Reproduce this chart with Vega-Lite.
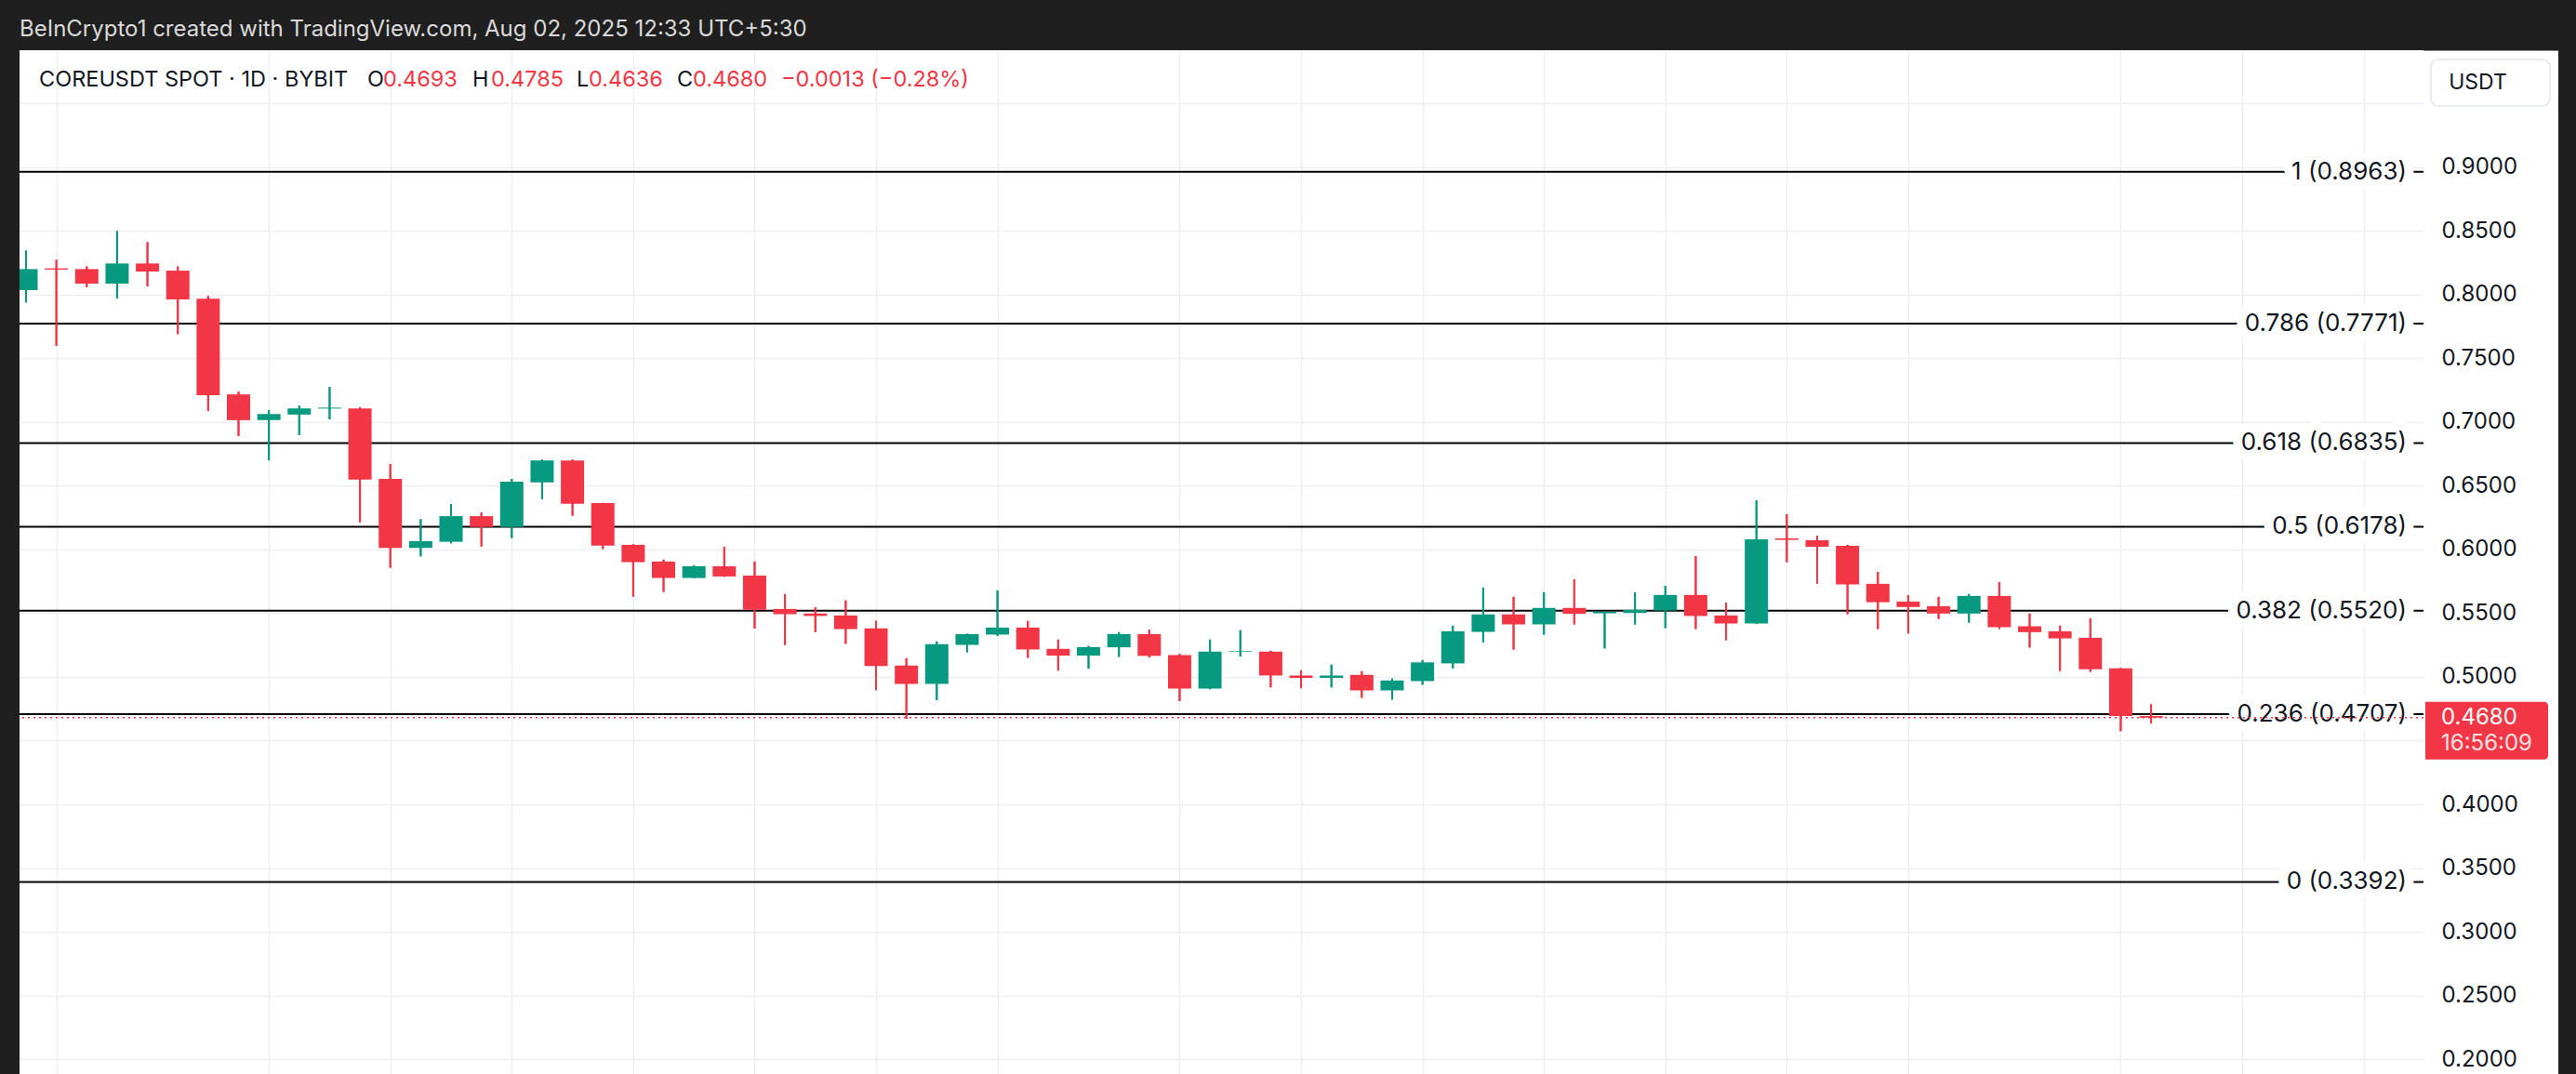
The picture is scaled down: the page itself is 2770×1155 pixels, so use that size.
{
  "$schema": "https://vega.github.io/schema/vega-lite/v6.json",
  "width": 2585,
  "height": 1101,
  "autosize": {"type": "none"},
  "padding": {"left": 21, "top": 54, "right": 164, "bottom": 0},
  "background": "#1f1f1f",
  "view": {"fill": "#ffffff", "stroke": null},
  "title": {
    "text": "BeInCrypto1 created with TradingView.com, Aug 02, 2025 12:33 UTC+5:30",
    "anchor": "start",
    "frame": "group",
    "color": "#dadada",
    "font": "Inter",
    "fontSize": 24,
    "fontWeight": "normal",
    "offset": 10
  },
  "config": {
    "font": "Inter",
    "text": {"font": "Inter"}
  },
  "resolve": {"axis": {"y": "independent"}},
  "datasets": {
    "candles": [
      {"date": "2025-05-24", "open": 0.8034, "high": 0.8344, "low": 0.7937, "close": 0.8199},
      {"date": "2025-05-25", "open": 0.8205, "high": 0.8272, "low": 0.7597, "close": 0.8195},
      {"date": "2025-05-26", "open": 0.8199, "high": 0.8220, "low": 0.8056, "close": 0.8085},
      {"date": "2025-05-27", "open": 0.8085, "high": 0.8497, "low": 0.7968, "close": 0.8243},
      {"date": "2025-05-28", "open": 0.8243, "high": 0.8410, "low": 0.8063, "close": 0.8180},
      {"date": "2025-05-29", "open": 0.8187, "high": 0.8220, "low": 0.7689, "close": 0.7961},
      {"date": "2025-05-30", "open": 0.7966, "high": 0.7988, "low": 0.7087, "close": 0.7210},
      {"date": "2025-05-31", "open": 0.7216, "high": 0.7237, "low": 0.6890, "close": 0.7014},
      {"date": "2025-06-01", "open": 0.7014, "high": 0.7094, "low": 0.6700, "close": 0.7063},
      {"date": "2025-06-02", "open": 0.7058, "high": 0.7128, "low": 0.6897, "close": 0.7106},
      {"date": "2025-06-03", "open": 0.7105, "high": 0.7274, "low": 0.7021, "close": 0.7112},
      {"date": "2025-06-04", "open": 0.7106, "high": 0.7116, "low": 0.6213, "close": 0.6548},
      {"date": "2025-06-05", "open": 0.6553, "high": 0.6669, "low": 0.5856, "close": 0.6012},
      {"date": "2025-06-06", "open": 0.6012, "high": 0.6237, "low": 0.5946, "close": 0.6065},
      {"date": "2025-06-07", "open": 0.6060, "high": 0.6356, "low": 0.6048, "close": 0.6261},
      {"date": "2025-06-08", "open": 0.6261, "high": 0.6290, "low": 0.6023, "close": 0.6176},
      {"date": "2025-06-09", "open": 0.6176, "high": 0.6553, "low": 0.6089, "close": 0.6531},
      {"date": "2025-06-10", "open": 0.6526, "high": 0.6706, "low": 0.6395, "close": 0.6698},
      {"date": "2025-06-11", "open": 0.6698, "high": 0.6705, "low": 0.6264, "close": 0.6358},
      {"date": "2025-06-12", "open": 0.6363, "high": 0.6365, "low": 0.6003, "close": 0.6030},
      {"date": "2025-06-13", "open": 0.6036, "high": 0.6040, "low": 0.5630, "close": 0.5900},
      {"date": "2025-06-14", "open": 0.5905, "high": 0.5920, "low": 0.5667, "close": 0.5776},
      {"date": "2025-06-15", "open": 0.5776, "high": 0.5876, "low": 0.5774, "close": 0.5868},
      {"date": "2025-06-16", "open": 0.5868, "high": 0.6020, "low": 0.5785, "close": 0.5788},
      {"date": "2025-06-17", "open": 0.5795, "high": 0.5905, "low": 0.5380, "close": 0.5526},
      {"date": "2025-06-18", "open": 0.5533, "high": 0.5650, "low": 0.5250, "close": 0.5492},
      {"date": "2025-06-19", "open": 0.5497, "high": 0.5546, "low": 0.5351, "close": 0.5478},
      {"date": "2025-06-20", "open": 0.5482, "high": 0.5600, "low": 0.5260, "close": 0.5375},
      {"date": "2025-06-21", "open": 0.5380, "high": 0.5440, "low": 0.4896, "close": 0.5085},
      {"date": "2025-06-22", "open": 0.5089, "high": 0.5147, "low": 0.4672, "close": 0.4945},
      {"date": "2025-06-23", "open": 0.4945, "high": 0.5278, "low": 0.4817, "close": 0.5256},
      {"date": "2025-06-24", "open": 0.5251, "high": 0.5338, "low": 0.5193, "close": 0.5336},
      {"date": "2025-06-25", "open": 0.5332, "high": 0.5679, "low": 0.5322, "close": 0.5387},
      {"date": "2025-06-26", "open": 0.5387, "high": 0.5439, "low": 0.5150, "close": 0.5215},
      {"date": "2025-06-27", "open": 0.5220, "high": 0.5293, "low": 0.5049, "close": 0.5167},
      {"date": "2025-06-28", "open": 0.5167, "high": 0.5242, "low": 0.5065, "close": 0.5234},
      {"date": "2025-06-29", "open": 0.5232, "high": 0.5351, "low": 0.5157, "close": 0.5336},
      {"date": "2025-06-30", "open": 0.5336, "high": 0.5370, "low": 0.5152, "close": 0.5165},
      {"date": "2025-07-01", "open": 0.5171, "high": 0.5181, "low": 0.4810, "close": 0.4909},
      {"date": "2025-07-02", "open": 0.4909, "high": 0.5293, "low": 0.4903, "close": 0.5198},
      {"date": "2025-07-03", "open": 0.5198, "high": 0.5366, "low": 0.5160, "close": 0.5203},
      {"date": "2025-07-04", "open": 0.5198, "high": 0.5205, "low": 0.4918, "close": 0.5011},
      {"date": "2025-07-05", "open": 0.5011, "high": 0.5052, "low": 0.4911, "close": 0.4992},
      {"date": "2025-07-06", "open": 0.4992, "high": 0.5096, "low": 0.4918, "close": 0.5011},
      {"date": "2025-07-07", "open": 0.5016, "high": 0.5045, "low": 0.4836, "close": 0.4894},
      {"date": "2025-07-08", "open": 0.4894, "high": 0.4987, "low": 0.4822, "close": 0.4972},
      {"date": "2025-07-09", "open": 0.4967, "high": 0.5132, "low": 0.4939, "close": 0.5114},
      {"date": "2025-07-10", "open": 0.5106, "high": 0.5402, "low": 0.5067, "close": 0.5358},
      {"date": "2025-07-11", "open": 0.5353, "high": 0.5701, "low": 0.5271, "close": 0.5490},
      {"date": "2025-07-12", "open": 0.5490, "high": 0.5628, "low": 0.5215, "close": 0.5412},
      {"date": "2025-07-13", "open": 0.5412, "high": 0.5664, "low": 0.5332, "close": 0.5541},
      {"date": "2025-07-14", "open": 0.5541, "high": 0.5766, "low": 0.5412, "close": 0.5495},
      {"date": "2025-07-15", "open": 0.5499, "high": 0.5513, "low": 0.5223, "close": 0.5511},
      {"date": "2025-07-16", "open": 0.5502, "high": 0.5664, "low": 0.5412, "close": 0.5526},
      {"date": "2025-07-17", "open": 0.5521, "high": 0.5715, "low": 0.5383, "close": 0.5643},
      {"date": "2025-07-18", "open": 0.5643, "high": 0.5948, "low": 0.5376, "close": 0.5478},
      {"date": "2025-07-19", "open": 0.5482, "high": 0.5584, "low": 0.5288, "close": 0.5419},
      {"date": "2025-07-20", "open": 0.5419, "high": 0.6385, "low": 0.5415, "close": 0.6079},
      {"date": "2025-07-21", "open": 0.6087, "high": 0.6276, "low": 0.5900, "close": 0.6075},
      {"date": "2025-07-22", "open": 0.6072, "high": 0.6108, "low": 0.5732, "close": 0.6021},
      {"date": "2025-07-23", "open": 0.6028, "high": 0.6036, "low": 0.5492, "close": 0.5725},
      {"date": "2025-07-24", "open": 0.5730, "high": 0.5824, "low": 0.5376, "close": 0.5586},
      {"date": "2025-07-25", "open": 0.5591, "high": 0.5642, "low": 0.5340, "close": 0.5548},
      {"date": "2025-07-26", "open": 0.5555, "high": 0.5628, "low": 0.5455, "close": 0.5497},
      {"date": "2025-07-27", "open": 0.5497, "high": 0.5650, "low": 0.5426, "close": 0.5635},
      {"date": "2025-07-28", "open": 0.5635, "high": 0.5744, "low": 0.5376, "close": 0.5390},
      {"date": "2025-07-29", "open": 0.5397, "high": 0.5497, "low": 0.5230, "close": 0.5351},
      {"date": "2025-07-30", "open": 0.5358, "high": 0.5402, "low": 0.5047, "close": 0.5302},
      {"date": "2025-07-31", "open": 0.5307, "high": 0.5460, "low": 0.5040, "close": 0.5060},
      {"date": "2025-08-01", "open": 0.5067, "high": 0.5070, "low": 0.4574, "close": 0.4693},
      {"date": "2025-08-02", "open": 0.4693, "high": 0.4785, "low": 0.4636, "close": 0.4680}
    ],
    "fib": [
      {"ratio": "1", "price": 0.8963, "label": "1 (0.8963)"},
      {"ratio": "0.786", "price": 0.7771, "label": "0.786 (0.7771)"},
      {"ratio": "0.618", "price": 0.6835, "label": "0.618 (0.6835)"},
      {"ratio": "0.5", "price": 0.6178, "label": "0.5 (0.6178)"},
      {"ratio": "0.382", "price": 0.5520, "label": "0.382 (0.5520)"},
      {"ratio": "0.236", "price": 0.4707, "label": "0.236 (0.4707)"},
      {"ratio": "0", "price": 0.3392, "label": "0 (0.3392)"}
    ],
    "last": [
      {"price": 0.4680, "label": "0.4680", "countdown": "16:56:09"}
    ],
    "header": [
      {"date": "2025-05-24", "price": 0.9685, "symbol": "COREUSDT SPOT · 1D · BYBIT", "o": "0.4693", "h": "0.4785", "l": "0.4636", "c": "0.4680", "chg": "−0.0013 (−0.28%)"}
    ]
  },
  "layer": [
    {
      "data": {"name": "candles"},
      "mark": {"type": "rule", "strokeWidth": 2, "clip": true},
      "encoding": {
        "x": {
          "field": "date",
          "type": "temporal",
          "scale": {
            "type": "utc",
            "domain": [
              {"year": 2025, "month": 5, "date": 23, "hours": 22, "minutes": 32, "utc": true},
              {"year": 2025, "month": 8, "date": 10, "hours": 19, "minutes": 41, "utc": true}
            ]
          },
          "axis": {
            "values": [
              {"year": 2025, "month": 5, "date": 25, "utc": true},
              {"year": 2025, "month": 6, "date": 1, "utc": true},
              {"year": 2025, "month": 6, "date": 5, "utc": true},
              {"year": 2025, "month": 6, "date": 9, "utc": true},
              {"year": 2025, "month": 6, "date": 13, "utc": true},
              {"year": 2025, "month": 6, "date": 17, "utc": true},
              {"year": 2025, "month": 6, "date": 21, "utc": true},
              {"year": 2025, "month": 6, "date": 25, "utc": true},
              {"year": 2025, "month": 7, "date": 1, "utc": true},
              {"year": 2025, "month": 7, "date": 5, "utc": true},
              {"year": 2025, "month": 7, "date": 9, "utc": true},
              {"year": 2025, "month": 7, "date": 13, "utc": true},
              {"year": 2025, "month": 7, "date": 17, "utc": true},
              {"year": 2025, "month": 7, "date": 21, "utc": true},
              {"year": 2025, "month": 7, "date": 25, "utc": true},
              {"year": 2025, "month": 8, "date": 1, "utc": true},
              {"year": 2025, "month": 8, "date": 5, "utc": true},
              {"year": 2025, "month": 8, "date": 9, "utc": true}
            ],
            "grid": true,
            "gridColor": "#eeeff2",
            "gridWidth": 1.5,
            "labels": false,
            "ticks": false,
            "domain": false,
            "title": null
          }
        },
        "y": {
          "field": "low",
          "type": "quantitative",
          "scale": {"domain": [0.1885, 0.9916], "nice": false, "zero": false},
          "axis": {
            "orient": "right",
            "grid": false,
            "labels": false,
            "ticks": false,
            "domain": true,
            "domainColor": "#ffffff",
            "domainWidth": 145,
            "offset": 72,
            "title": null
          }
        },
        "y2": {"field": "high"},
        "color": {"condition": {"test": "datum.close >= datum.open", "value": "#089981"}, "value": "#F23645"}
      }
    },
    {
      "data": {"name": "fib"},
      "mark": {"type": "rule", "color": "#000000", "strokeWidth": 2},
      "encoding": {
        "y": {"field": "price", "type": "quantitative", "axis": null}
      }
    },
    {
      "data": {"name": "fib"},
      "mark": {"type": "text", "align": "right", "baseline": "middle", "dx": -18, "fontSize": 26, "color": "#ffffff", "stroke": "#ffffff", "strokeWidth": 20, "strokeJoin": "round"},
      "encoding": {
        "x": {"value": "width"},
        "y": {"field": "price", "type": "quantitative", "axis": null},
        "text": {"field": "label"}
      }
    },
    {
      "data": {"name": "fib"},
      "mark": {"type": "text", "align": "right", "baseline": "middle", "dx": -18, "fontSize": 26, "color": "#131722"},
      "encoding": {
        "x": {"value": "width"},
        "y": {"field": "price", "type": "quantitative", "axis": null},
        "text": {"field": "label"}
      }
    },
    {
      "data": {"name": "candles"},
      "mark": {"type": "rule", "strokeWidth": 2, "clip": true},
      "encoding": {
        "x": {"field": "date", "type": "temporal"},
        "y": {
          "field": "low",
          "type": "quantitative",
          "axis": {
            "orient": "right",
            "values": [0.2, 0.25, 0.3, 0.35, 0.4, 0.45, 0.5, 0.55, 0.6, 0.65, 0.7, 0.75, 0.8, 0.85, 0.9, 0.95],
            "labelExpr": "datum.value == 0.45 || datum.value == 0.95 ? '' : format(datum.value, '.4f')",
            "grid": true,
            "gridColor": "#eeeff2",
            "gridWidth": 1.5,
            "ticks": false,
            "tickSize": 0,
            "domain": false,
            "offset": 0,
            "labelPadding": 19,
            "labelAlign": "left",
            "labelBaseline": "middle",
            "labelFont": "Inter",
            "labelFontSize": 24,
            "labelColor": "#131722",
            "title": "USDT",
            "titleAngle": 0,
            "titleX": 58,
            "titleY": 34,
            "titleAlign": "center",
            "titleBaseline": "middle",
            "titleFont": "Inter",
            "titleFontSize": 23,
            "titleFontWeight": "normal",
            "titleColor": "#131722"
          }
        },
        "y2": {"field": "high"},
        "color": {"condition": {"test": "datum.close >= datum.open", "value": "#089981"}, "value": "#F23645"}
      }
    },
    {
      "data": {"name": "candles"},
      "mark": {"type": "bar", "width": 25, "clip": true},
      "encoding": {
        "x": {"field": "date", "type": "temporal"},
        "y": {"field": "open", "type": "quantitative", "axis": null},
        "y2": {"field": "close"},
        "color": {"condition": {"test": "datum.close >= datum.open", "value": "#089981"}, "value": "#F23645"}
      }
    },
    {
      "data": {"name": "last"},
      "mark": {"type": "rule", "color": "#F23645", "strokeWidth": 1.5, "strokeDash": [2, 4]},
      "encoding": {
        "y": {"field": "price", "type": "quantitative", "axis": null}
      }
    },
    {
      "data": {"name": "last"},
      "mark": {"type": "rect", "color": "#F23645", "xOffset": 2, "x2Offset": 134, "yOffset": -17, "y2Offset": 45, "cornerRadiusTopRight": 4, "cornerRadiusBottomRight": 4},
      "encoding": {
        "x": {"value": "width"},
        "x2": {"value": "width"},
        "y": {"field": "price", "type": "quantitative", "axis": null},
        "y2": {"field": "price"}
      }
    },
    {
      "data": {"name": "last"},
      "mark": {"type": "text", "align": "left", "baseline": "middle", "dx": 19, "fontSize": 24, "color": "#ffffff"},
      "encoding": {
        "x": {"value": "width"},
        "y": {"field": "price", "type": "quantitative", "axis": null},
        "text": {"field": "label"}
      }
    },
    {
      "data": {"name": "last"},
      "mark": {"type": "text", "align": "left", "baseline": "middle", "dx": 19, "dy": 28, "fontSize": 24, "color": "#ffffff", "opacity": 0.85},
      "encoding": {
        "x": {"value": "width"},
        "y": {"field": "price", "type": "quantitative", "axis": null},
        "text": {"field": "countdown"}
      }
    },
    {
      "data": {"name": "last"},
      "mark": {"type": "rect", "filled": false, "color": "#e3e5ea", "strokeWidth": 1.5, "cornerRadius": 8, "xOffset": 8, "x2Offset": 136, "yOffset": -47, "y2Offset": 3},
      "encoding": {
        "x": {"value": "width"},
        "x2": {"value": "width"},
        "y": {"datum": 0.95, "type": "quantitative", "axis": null},
        "y2": {"datum": 0.95}
      }
    },
    {
      "data": {"name": "header"},
      "mark": {"type": "text", "align": "left", "baseline": "middle", "dx": 14, "fontSize": 23.5, "color": "#131722"},
      "encoding": {
        "x": {"field": "date", "type": "temporal"},
        "y": {"field": "price", "type": "quantitative", "axis": null},
        "text": {"field": "symbol"}
      }
    },
    {
      "data": {"name": "header"},
      "mark": {"type": "text", "align": "left", "baseline": "middle", "dx": 367, "fontSize": 23.5, "color": "#131722"},
      "encoding": {
        "x": {"field": "date", "type": "temporal"},
        "y": {"field": "price", "type": "quantitative", "axis": null},
        "text": {"value": "O"}
      }
    },
    {
      "data": {"name": "header"},
      "mark": {"type": "text", "align": "left", "baseline": "middle", "dx": 384, "fontSize": 23.5, "color": "#F23645"},
      "encoding": {
        "x": {"field": "date", "type": "temporal"},
        "y": {"field": "price", "type": "quantitative", "axis": null},
        "text": {"field": "o"}
      }
    },
    {
      "data": {"name": "header"},
      "mark": {"type": "text", "align": "left", "baseline": "middle", "dx": 480, "fontSize": 23.5, "color": "#131722"},
      "encoding": {
        "x": {"field": "date", "type": "temporal"},
        "y": {"field": "price", "type": "quantitative", "axis": null},
        "text": {"value": "H"}
      }
    },
    {
      "data": {"name": "header"},
      "mark": {"type": "text", "align": "left", "baseline": "middle", "dx": 500, "fontSize": 23.5, "color": "#F23645"},
      "encoding": {
        "x": {"field": "date", "type": "temporal"},
        "y": {"field": "price", "type": "quantitative", "axis": null},
        "text": {"field": "h"}
      }
    },
    {
      "data": {"name": "header"},
      "mark": {"type": "text", "align": "left", "baseline": "middle", "dx": 592, "fontSize": 23.5, "color": "#131722"},
      "encoding": {
        "x": {"field": "date", "type": "temporal"},
        "y": {"field": "price", "type": "quantitative", "axis": null},
        "text": {"value": "L"}
      }
    },
    {
      "data": {"name": "header"},
      "mark": {"type": "text", "align": "left", "baseline": "middle", "dx": 605, "fontSize": 23.5, "color": "#F23645"},
      "encoding": {
        "x": {"field": "date", "type": "temporal"},
        "y": {"field": "price", "type": "quantitative", "axis": null},
        "text": {"field": "l"}
      }
    },
    {
      "data": {"name": "header"},
      "mark": {"type": "text", "align": "left", "baseline": "middle", "dx": 700, "fontSize": 23.5, "color": "#131722"},
      "encoding": {
        "x": {"field": "date", "type": "temporal"},
        "y": {"field": "price", "type": "quantitative", "axis": null},
        "text": {"value": "C"}
      }
    },
    {
      "data": {"name": "header"},
      "mark": {"type": "text", "align": "left", "baseline": "middle", "dx": 717, "fontSize": 23.5, "color": "#F23645"},
      "encoding": {
        "x": {"field": "date", "type": "temporal"},
        "y": {"field": "price", "type": "quantitative", "axis": null},
        "text": {"field": "c"}
      }
    },
    {
      "data": {"name": "header"},
      "mark": {"type": "text", "align": "left", "baseline": "middle", "dx": 812, "fontSize": 23.5, "color": "#F23645"},
      "encoding": {
        "x": {"field": "date", "type": "temporal"},
        "y": {"field": "price", "type": "quantitative", "axis": null},
        "text": {"field": "chg"}
      }
    }
  ]
}
